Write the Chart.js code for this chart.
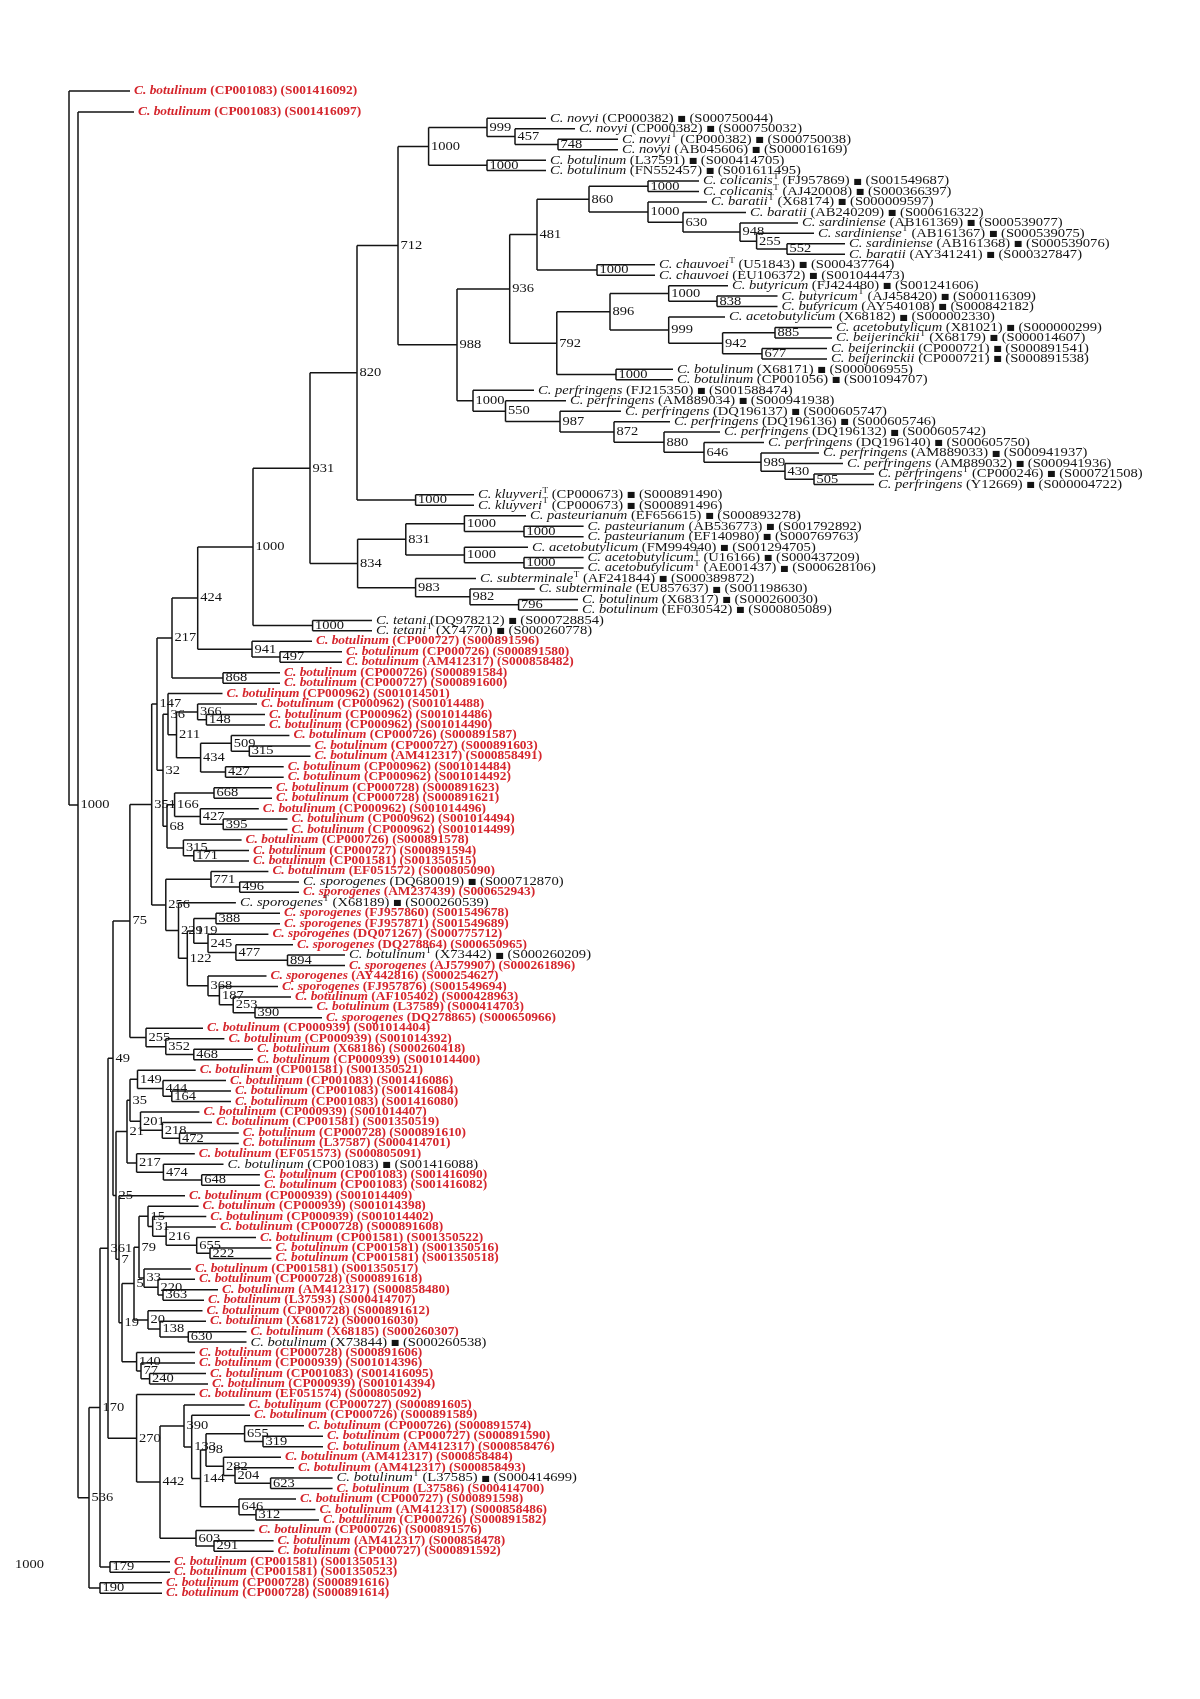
<!DOCTYPE html>
<html>
<head>
<meta charset="utf-8">
<script src="https://cdn.jsdelivr.net/npm/chart.js@4.4.1/dist/chart.umd.min.js"></script>
<style>
  html, body { margin: 0; background: #fff; }
  #wrap { width: 1200px; height: 1699px; position: relative; }
</style>
</head>
<body>
<div id="wrap"><canvas id="tree"></canvas></div>
<script>
// ---- leaves, top to bottom ----
const leafSpecies = ('botulinum,botulinum,novyi,novyi,novyi,novyi,botulinum,botulinum,colicanis,colicanis,' +
  'baratii,baratii,sardiniense,sardiniense,sardiniense,baratii,chauvoei,chauvoei,butyricum,butyricum,' +
  'butyricum,acetobutylicum,acetobutylicum,beijerinckii,beijerinckii,beijerinckii,botulinum,botulinum,perfringens,perfringens,' +
  'perfringens,perfringens,perfringens,perfringens,perfringens,perfringens,perfringens,perfringens,kluyveri,kluyveri,' +
  'pasteurianum,pasteurianum,pasteurianum,acetobutylicum,acetobutylicum,acetobutylicum,subterminale,subterminale,botulinum,botulinum,' +
  'tetani,tetani').split(',')
  .concat(Array(23).fill('botulinum'))
  .concat(['sporogenes', 'sporogenes', 'sporogenes', 'sporogenes', 'sporogenes', 'sporogenes', 'sporogenes',
    'botulinum', 'sporogenes', 'sporogenes', 'sporogenes', 'botulinum', 'botulinum', 'sporogenes'])
  .concat(Array(55).fill('botulinum'));

const leafAccession = ['CP001083', 'CP001083', 'CP000382', 'CP000382', 'CP000382', 'AB045606', 'L37591', 'FN552457', 'FJ957869', 'AJ420008',
  'X68174', 'AB240209', 'AB161369', 'AB161367', 'AB161368', 'AY341241', 'U51843', 'EU106372', 'FJ424480', 'AJ458420',
  'AY540108', 'X68182', 'X81021', 'X68179', 'CP000721', 'CP000721', 'X68171', 'CP001056', 'FJ215350', 'AM889034',
  'DQ196137', 'DQ196136', 'DQ196132', 'DQ196140', 'AM889033', 'AM889032', 'CP000246', 'Y12669', 'CP000673', 'CP000673',
  'EF656615', 'AB536773', 'EF140980', 'FM994940', 'U16166', 'AE001437', 'AF241844', 'EU857637', 'X68317', 'EF030542',
  'DQ978212', 'X74770', 'CP000727', 'CP000726', 'AM412317', 'CP000726', 'CP000727', 'CP000962', 'CP000962', 'CP000962',
  'CP000962', 'CP000726', 'CP000727', 'AM412317', 'CP000962', 'CP000962', 'CP000728', 'CP000728', 'CP000962', 'CP000962',
  'CP000962', 'CP000726', 'CP000727', 'CP001581', 'EF051572', 'DQ680019', 'AM237439', 'X68189', 'FJ957860', 'FJ957871',
  'DQ071267', 'DQ278864', 'X73442', 'AJ579907', 'AY442816', 'FJ957876', 'AF105402', 'L37589', 'DQ278865', 'CP000939',
  'CP000939', 'X68186', 'CP000939', 'CP001581', 'CP001083', 'CP001083', 'CP001083', 'CP000939', 'CP001581', 'CP000728',
  'L37587', 'EF051573', 'CP001083', 'CP001083', 'CP001083', 'CP000939', 'CP000939', 'CP000939', 'CP000728', 'CP001581',
  'CP001581', 'CP001581', 'CP001581', 'CP000728', 'AM412317', 'L37593', 'CP000728', 'X68172', 'X68185', 'X73844',
  'CP000728', 'CP000939', 'CP001083', 'CP000939', 'EF051574', 'CP000727', 'CP000726', 'CP000726', 'CP000727', 'AM412317',
  'AM412317', 'AM412317', 'L37585', 'L37586', 'CP000727', 'AM412317', 'CP000726', 'CP000726', 'AM412317', 'CP000727',
  'CP001581', 'CP001581', 'CP000728', 'CP000728'];

const leafSeqId = ['S001416092', 'S001416097', 'S000750044', 'S000750032', 'S000750038', 'S000016169', 'S000414705', 'S001611495', 'S001549687', 'S000366397',
  'S000009597', 'S000616322', 'S000539077', 'S000539075', 'S000539076', 'S000327847', 'S000437764', 'S001044473', 'S001241606', 'S000116309',
  'S000842182', 'S000002330', 'S000000299', 'S000014607', 'S000891541', 'S000891538', 'S000006955', 'S001094707', 'S001588474', 'S000941938',
  'S000605747', 'S000605746', 'S000605742', 'S000605750', 'S000941937', 'S000941936', 'S000721508', 'S000004722', 'S000891490', 'S000891496',
  'S000893278', 'S001792892', 'S000769763', 'S001294705', 'S000437209', 'S000628106', 'S000389872', 'S001198630', 'S000260030', 'S000805089',
  'S000728854', 'S000260778', 'S000891596', 'S000891580', 'S000858482', 'S000891584', 'S000891600', 'S001014501', 'S001014488', 'S001014486',
  'S001014490', 'S000891587', 'S000891603', 'S000858491', 'S001014484', 'S001014492', 'S000891623', 'S000891621', 'S001014496', 'S001014494',
  'S001014499', 'S000891578', 'S000891594', 'S001350515', 'S000805090', 'S000712870', 'S000652943', 'S000260539', 'S001549678', 'S001549689',
  'S000775712', 'S000650965', 'S000260209', 'S000261896', 'S000254627', 'S001549694', 'S000428963', 'S000414703', 'S000650966', 'S001014404',
  'S001014392', 'S000260418', 'S001014400', 'S001350521', 'S001416086', 'S001416084', 'S001416080', 'S001014407', 'S001350519', 'S000891610',
  'S000414701', 'S000805091', 'S001416088', 'S001416090', 'S001416082', 'S001014409', 'S001014398', 'S001014402', 'S000891608', 'S001350522',
  'S001350516', 'S001350518', 'S001350517', 'S000891618', 'S000858480', 'S000414707', 'S000891612', 'S000016030', 'S000260307', 'S000260538',
  'S000891606', 'S001014396', 'S001416095', 'S001014394', 'S000805092', 'S000891605', 'S000891589', 'S000891574', 'S000891590', 'S000858476',
  'S000858484', 'S000858493', 'S000414699', 'S000414700', 'S000891598', 'S000858486', 'S000891582', 'S000891576', 'S000858478', 'S000891592',
  'S001350513', 'S001350523', 'S000891616', 'S000891614'];

// reference sequences (drawn black with the square), by leaf number
const referenceLeaves = [3, 4, 5, 6, 7, 8, 9, 10, 11, 12, 13, 14, 15, 16, 17, 18, 19, 20, 21, 22, 23, 24, 25, 26, 27,
  28, 29, 30, 31, 32, 33, 34, 35, 36, 37, 38, 39, 40, 41, 42, 43, 44, 45, 46, 47, 48, 49, 50, 51, 52, 76, 78, 83, 103, 120, 133];
// type strains (superscript T)
const typeStrainLeaves = [5, 9, 10, 11, 14, 17, 20, 24, 37, 39, 40, 45, 46, 47, 52, 78, 83, 133];

// ---- clades: (children)bootstrap:depth, leaves are leaf numbers ----
const cNovyi = '((3:546,(4:575,(5:618,6:618)748:558)457:515)999:487,(7:546,8:546)1000:487)1000:428.6';
const cBaratii = '(((9:699,10:699)1000:648,(11:707,(12:746,(13:798,(14:814,(15:845,16:845)552:787)255:756.6)948:740)630:683)1000:648)860:589,(17:655,18:655)1000:597)481:537';
const cButyricum = '(((19:728,(20:777.5,21:777.5)838:717)1000:668.7,(22:725,((23:832,24:832)885:775,(25:827,26:827)677:762)942:722.6)999:668.7)896:610,(27:673,28:673)1000:616)792:556.8';
const cPerfringens = '(29:534,(30:566,(31:621,(32:670,(33:720,(34:764,(35:819,(36:843,(37:874,38:874)505:814)430:785)989:761)646:704)880:664)872:614)987:560)550:505.5)1000:473';
const cKluyveri = '(39:474,40:474)1000:415.6';
const cPasteurianum = '(((41:526,(42:583.6,43:583.6)1000:524)1000:464.4,(44:528,(45:583.6,46:583.6)1000:524)1000:464.4)831:405.8,(47:476,(48:534.8,(49:578,50:578)796:518.6)982:470)983:415.6)834:357.6';
const cTetani = '(51:372,52:372)1000:312.6';
const c941 = '(53:312,(54:342,55:342)497:280)941:252';
const c868 = '(56:280,57:280)868:223';
const c32 = '((58:222.5,((59:257,(60:265,61:265)148:206.4)366:197.6,((62:289.4,(63:310.5,64:310.5)315:249.3)509:231.3,(65:283.7,66:283.7)427:225.5)434:200.6)211:176.5)36:168,(((67:272,68:272)668:214,(69:258.8,(70:287.5,71:287.5)395:223.2)427:200.3)166:174.6,(72:241.6,(73:249,74:249)171:193.8)315:183.4)68:167)32:163';
const c256 = '((75:268.4,(76:299,77:299)496:239.7)771:211,(78:235.9,(((79:280,80:280)388:216,(81:268.4,(82:293,(83:345,84:345)894:287.5)477:235.9)245:208)119:193.8,(85:266.5,(86:278,(87:291,(88:312.4,89:322)390:255)253:233.2)187:219.4)368:208)122:187.3)229:178.5)256:165.8';
const c255 = '(90:203,(91:224.4,(92:253,93:253)468:193.8)352:165.8)255:146';
const c149 = '(94:195.7,(95:226,(96:231,97:231)164:171.8)444:163)149:137.5';
const c201 = '(98:199.4,(99:212,(100:238.8,101:238.8)472:179.5)218:162.3)201:140.5';
const c217b = '(102:194.8,(103:223.5,(104:259.9,105:259.9)648:201.7)474:163.4)217:136.6';
const c15 = '(107:198.6,(108:206.3,(109:215.9,(110:256,(111:271.4,112:271.4)222:210)655:196.7)216:166.1)31:152.7)15:148';
const c33 = '(113:191,(114:195,(115:218,116:204)363:163)220:158)33:144';
const c20 = '(117:202.5,(118:206,(119:246.5,120:246.5)630:188.3)138:160)20:148';
const c140 = '(121:195,(122:195,(123:206,124:208)240:149.6)77:141)140:136.6';
const c270 = '(125:195,((126:244.6,(127:250,(((128:304,(129:323,130:323)319:263)655:244.6,(131:281,(132:294,(133:332.6,134:332.6)623:270.6)204:235)282:223.5)98:206,(135:296,(136:315.4,137:319)312:256)646:239)144:200.5)133:191.7)390:184,(138:254.5,(139:273.6,140:273.6)291:214)603:196)442:160)270:136.6';
const c179 = '(141:170,142:170)179:110';
const c190 = '(143:162,144:162)190:100';
const rootSupport = '1000';

const cUpper = `((((${cNovyi},((${cBaratii},${cButyricum})936:509.7,${cPerfringens})988:457)712:398,${cKluyveri})820:357,${cPasteurianum})931:310,${cTetani})1000:253`;
const c217 = `((${cUpper},${c941})424:197.7,${c868})217:172`;
const c75 = `(((${c217},${c32})147:157,${c256})351:151.7,${c255})75:129.9`;
const c21 = `((${c149},${c201})35:130,${c217b})21:127`;
const c19 = `(((${c15},${c33})79:139,${c20})5:134,${c140})19:122`;
const c49 = `(${c75},(${c21},(106:185,${c19})7:119)25:116)49:113`;
const treeNewick = `(1:130,(2:134,(((${c49},${c270})361:108,${c179})170:100,${c190})536:89)1000:78):69`;

// ---- layout ----
const W = 1200, H = 1699;
const ROW0 = 118.3, ROWH = 10.46;   // pixel of first regular row, row pitch
const RED = '#d5262d', INK = '#141414';
const SQUASH = 0.88;

function parseTree(src) {
  const s = src.replace(/\s+/g, '');
  let i = 0;
  const num = re => { let v = ''; while (i < s.length && re.test(s[i])) v += s[i++]; return v; };
  function node() {
    const n = { children: [] };
    if (s[i] === '(') {
      i++;
      n.children.push(node());
      while (s[i] === ',') { i++; n.children.push(node()); }
      if (s[i] !== ')') throw new Error('bad tree at ' + i);
      i++;
      n.boot = num(/[0-9]/);
    } else {
      n.leaf = +num(/[0-9]/);
    }
    if (s[i] === ':') { i++; n.x = +num(/[0-9.]/); }
    return n;
  }
  const t = node();
  if (i !== s.length) throw new Error('trailing tree text at ' + i);
  return t;
}

const rowOf = k => k >= 3 ? k - 3 : (k === 1 ? -2.6 : -0.6);
const root = parseTree(treeNewick);
const nodes = [];
(function place(n) {
  if (n.leaf) { n.y = rowOf(n.leaf); }
  else {
    n.children.forEach(place);
    n.y = (n.children[0].y + n.children[n.children.length - 1].y) / 2;
  }
  nodes.push(n);
})(root);

// branch segments, separated by gaps
const segs = [];
const gap = { x: null, y: null };
nodes.forEach(n => {
  if (!n.children.length) return;
  const c0 = n.children[0], c1 = n.children[n.children.length - 1];
  segs.push({ x: n.x, y: c0.y }, { x: n.x, y: c1.y }, gap);
  n.children.forEach(c => segs.push({ x: n.x, y: c.y }, { x: c.x, y: c.y }, gap));
});

const serif = '"Liberation Serif", "Times New Roman", serif';

function drawLeaf(ctx, px, py, k) {
  const i = k - 1;
  const ref = referenceLeaves.includes(k);
  const isType = typeStrainLeaves.includes(k);
  const fs = ref ? 14.6 : 13.4;
  const wt = ref ? '' : 'bold ';
  ctx.save();
  ctx.translate(px, py);
  ctx.scale(1, SQUASH);
  ctx.fillStyle = ref ? INK : RED;
  ctx.textBaseline = 'middle';
  ctx.textAlign = 'left';
  let cx = 0;
  const put = (t, font, dy = 0) => { ctx.font = font; ctx.fillText(t, cx, dy); cx += ctx.measureText(t).width; };
  put('C. ' + leafSpecies[i], `italic ${wt}${fs}px ${serif}`);
  if (isType) { cx += 0.5; put('T', `${wt}${fs * 0.62}px ${serif}`, -fs * 0.32); }
  if (ref) {
    put(' (' + leafAccession[i] + ') ', `${fs}px ${serif}`);
    put('\u25A0', `${fs * 0.62}px "DejaVu Sans"`, 0.5);
    put(' (' + leafSeqId[i] + ')', `${fs}px ${serif}`);
  } else {
    put(' (' + leafAccession[i] + ') (' + leafSeqId[i] + ')', `bold ${fs}px ${serif}`);
  }
  ctx.restore();
}

function drawSupport(ctx, px, py, t) {
  ctx.save();
  ctx.translate(px, py);
  ctx.scale(1, SQUASH);
  ctx.fillStyle = INK;
  ctx.font = `14.5px ${serif}`;
  ctx.textBaseline = 'middle';
  ctx.textAlign = 'left';
  ctx.fillText(t, 0, 0);
  ctx.restore();
}

const treeText = {
  id: 'treeText',
  afterDatasetsDraw(chart) {
    const { ctx, scales: { x, y } } = chart;
    nodes.forEach(n => {
      const px = x.getPixelForValue(n.x), py = y.getPixelForValue(n.y);
      if (n.leaf) drawLeaf(ctx, px + 4, py, n.leaf);
      else if (n.boot) drawSupport(ctx, px + 2.5, py, n.boot);
    });
    // support value printed at the far left, level with the last clades
    drawSupport(ctx, x.getPixelForValue(15), y.getPixelForValue(rowOf(141) + 0.3), rootSupport);
  }
};

new Chart(document.getElementById('tree'), {
  type: 'scatter',
  data: {
    datasets: [{
      data: segs,
      showLine: true,
      spanGaps: false,
      borderColor: INK,
      borderWidth: 1.5,
      pointRadius: 0,
      pointHoverRadius: 0,
      tension: 0
    }]
  },
  options: {
    animation: false,
    responsive: true,
    maintainAspectRatio: false,
    events: [],
    layout: { padding: 0 },
    plugins: { legend: { display: false }, tooltip: { enabled: false } },
    scales: {
      x: { type: 'linear', min: 0, max: W, display: false },
      y: { type: 'linear', min: -ROW0 / ROWH, max: (H - ROW0) / ROWH, reverse: true, display: false }
    }
  },
  plugins: [treeText]
});
</script>
</body>
</html>
